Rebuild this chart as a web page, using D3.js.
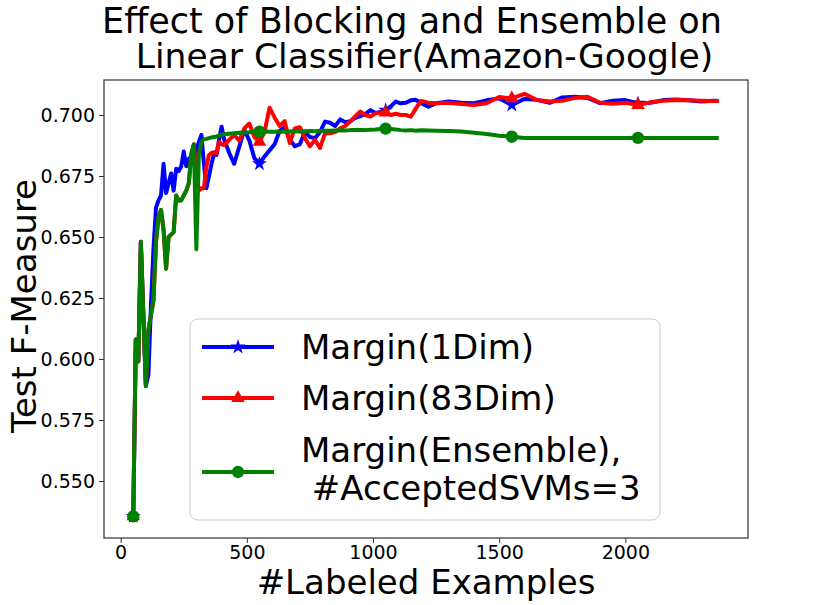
<!DOCTYPE html>
<html>
<head>
<meta charset="utf-8">
<script src="https://cdn.jsdelivr.net/npm/d3@7"></script>
<style>
  body { margin: 0; background: #fff; }
  text { font-family: "DejaVu Sans", sans-serif; }
</style>
</head>
<body>
<div id="chart"></div>
<script>
// number of labeled examples (x)
const labeled = [
  50, 60, 70, 80, 90, 100, 110, 120, 130, 140, 150, 160, 170, 180, 190, 200, 210, 220,
  230, 240, 250, 260, 270, 280, 290, 300, 310, 320, 330, 340, 350, 360, 370, 380, 390, 400,
  410, 430, 450, 470, 490, 510, 530, 550, 570, 590, 610, 630, 650, 670, 690, 710, 730, 750,
  770, 790, 810, 830, 850, 870, 890, 910, 930, 950, 970, 990, 1010, 1030, 1050, 1070, 1090,
  1110, 1130, 1150, 1170, 1190,
  1220, 1250, 1300, 1350, 1400, 1450, 1500, 1550, 1600, 1650, 1700, 1750, 1800, 1850, 1900,
  1950, 2000, 2050, 2100, 2150, 2200, 2250, 2300, 2350, 2370
];

// Margin(1Dim)
const margin1Dim = [
  .5355, .608, .599, .648, .618, .589, .5935, .622, .645, .662, .665, .667, .680, .668, .672, .676, .669, .678,
  .677, .679, .685, .679, .682, .683, .680, .685, .689, .6918, .680, .670, .675, .680, .684, .6836, .690, .6952,
  .6900, .6845, .6800, .6870, .6940, .6895, .6823, .6800, .6830, .6855, .6880, .6935, .6950, .6900, .6872, .6880, .6930, .6910,
  .6905, .6930, .6973, .6968, .6955, .6982, .6970, .6975, .6988, .6995, .7005, .7020, .7008, .7012, .7020, .7035, .7055,
  .7048, .7050, .7060, .7062, .7048,
  .7034, .7048, .7055, .7050, .7048, .7060, .7068, .7041, .7066, .7062, .7050, .7072, .7075, .7070, .7048,
  .7058, .7061, .7048, .7050, .7061, .7064, .7060, .7055, .7058, .7057
];

// Margin(83Dim)
const margin83Dim = [
  .5355, .608, .599, .648, .618, .589, .612, .618, .624, .648, .658, .661, .653, .637, .650, .651, .652, .667,
  .665, .665, .667, .669, .672, .684, .688, .676, .669, .670, .670, .679, .6836, .6844, .6848, .6844, .6890, .6880,
  .6877, .6898, .6918, .6895, .6945, .6965, .6910, .6890, .6930, .7030, .6990, .6955, .6975, .6885, .6945, .6950, .6905, .6872,
  .6898, .6865, .6925, .6925, .6930, .6945, .6955, .6973, .6995, .7014, .7000, .6993, .7007, .7010, .7010, .7000, .7005,
  .7000, .7000, .6993, .7027, .7058,
  .7050, .7048, .7050, .7045, .7041, .7048, .7074, .7068, .7087, .7061, .7055, .7058, .7070, .7075, .7050,
  .7046, .7050, .7041, .7052, .7058, .7061, .7060, .7058, .7057, .7057
];

// Margin(Ensemble), #AcceptedSVMs=3
const marginEnsemble = [
  .5355, .608, .599, .648, .618, .589, .612, .618, .624, .648, .658, .661, .653, .637, .650, .651, .652, .667,
  .665, .665, .667, .669, .672, .684, .688, .645, .684, .689, .690, .6902, .6905, .6908, .6910, .6912, .6915, .6920,
  .6921, .6923, .6925, .6927, .6928, .6929, .6931, .6932, .6932, .6931, .6931, .6932, .6931, .6932, .6933, .6932, .6933, .6934,
  .6933, .6934, .6935, .6935, .6936, .6937, .6936, .6938, .6938, .6939, .6938, .6940, .6941, .6943, .6944, .6943, .6941,
  .6938, .6936, .6938, .6935, .6937,
  .6936, .6935, .6934, .6932, .6927, .6922, .6915, .6911, .6906, .6906, .6906, .6906, .6906, .6906, .6906,
  .6906, .6906, .6906, .6906, .6906, .6906, .6906, .6906, .6906, .6906
];

const markerAt = [50, 550, 1050, 1550, 2050];
const xTicks = [0, 500, 1000, 1500, 2000];
const yTicks = [0.550, 0.575, 0.600, 0.625, 0.650, 0.675, 0.700];

const series = [
  { name: ["Margin(1Dim)"], values: margin1Dim, color: "#0000ff", marker: "star" },
  { name: ["Margin(83Dim)"], values: margin83Dim, color: "#ff0000", marker: "triangle" },
  { name: ["Margin(Ensemble),", " #AcceptedSVMs=3"], values: marginEnsemble, color: "#008000", marker: "circle" }
];

const W = 830, H = 605;
const margin = { top: 80, right: 82, bottom: 67, left: 104 };
const width = W - margin.left - margin.right;
const height = H - margin.top - margin.bottom;

const svg = d3.select("#chart").append("svg")
  .attr("width", W)
  .attr("height", H);

const g = svg.append("g")
  .attr("transform", `translate(${margin.left},${margin.top})`);

const x = d3.scaleLinear().domain([-66, 2486]).range([0, width]);
const y = d3.scaleLinear().domain([0.52664, 0.71434]).range([height, 0]);

// axes
const xAxis = g.append("g")
  .attr("transform", `translate(0,${height})`)
  .call(d3.axisBottom(x).tickValues(xTicks).tickSize(5).tickPadding(3).tickFormat(d3.format("d")));
const yAxis = g.append("g")
  .call(d3.axisLeft(y).tickValues(yTicks).tickSize(5).tickPadding(4).tickFormat(d3.format(".3f")));

[xAxis, yAxis].forEach(a => {
  a.select(".domain").remove();
  a.selectAll(".tick line").attr("stroke", "#333").attr("stroke-width", 1);
  a.selectAll(".tick text").style("font-size", "19px").attr("fill", "#000");
});

function symbolFor(kind, size) {
  if (kind === "star") return d3.symbol().type(d3.symbolStar).size(size || 70)();
  if (kind === "triangle") return d3.symbol().type(d3.symbolTriangle).size(size || 80)();
  return d3.symbol().type(d3.symbolCircle).size(size || 120)();
}

const line = d3.line()
  .x((d, i) => x(labeled[i]))
  .y(d => y(d));

const plot = g.append("g");

series.forEach(s => {
  plot.append("path")
    .datum(s.values)
    .attr("fill", "none")
    .attr("stroke", s.color)
    .attr("stroke-width", 4)
    .attr("stroke-linejoin", "round")
    .attr("d", line);

  const pts = labeled.map((lx, i) => ({ lx, v: s.values[i] }))
    .filter(p => markerAt.includes(p.lx));

  plot.selectAll(null)
    .data(pts)
    .enter().append("path")
    .attr("transform", p => `translate(${x(p.lx)},${y(p.v)})`)
    .attr("d", symbolFor(s.marker))
    .attr("fill", s.color);
});

// frame
g.append("rect")
  .attr("width", width)
  .attr("height", height)
  .attr("fill", "none")
  .attr("stroke", "#333")
  .attr("stroke-width", 1.2);

// legend
const legend = svg.append("g");
legend.append("rect")
  .attr("x", 190).attr("y", 319)
  .attr("width", 470).attr("height", 201)
  .attr("rx", 8)
  .attr("fill", "#fff").attr("fill-opacity", 0.8)
  .attr("stroke", "#ccc").attr("stroke-width", 1);

const rowY = [347, 398, 472];
series.forEach((s, i) => {
  const ry = rowY[i];
  legend.append("line")
    .attr("x1", 202).attr("x2", 274)
    .attr("y1", ry).attr("y2", ry)
    .attr("stroke", s.color).attr("stroke-width", 4);
  legend.append("path")
    .attr("transform", `translate(238,${ry})`)
    .attr("d", symbolFor(s.marker))
    .attr("fill", s.color);
  const t = legend.append("text")
    .attr("x", 301)
    .style("font-size", "34px")
    .style("white-space", "pre")
    .attr("fill", "#000");
  if (s.name.length === 1) {
    t.attr("y", ry + 12).text(s.name[0]);
  } else {
    t.append("tspan").attr("x", 301).attr("y", ry - 10).text(s.name[0]);
    t.append("tspan").attr("x", 301).attr("y", ry + 28).text(s.name[1]);
  }
});

// title and labels
svg.append("text")
  .attr("x", 412).attr("y", 33)
  .attr("text-anchor", "middle")
  .style("font-size", "35px")
  .text("Effect of Blocking and Ensemble on");
svg.append("text")
  .attr("x", 424.5).attr("y", 68)
  .attr("text-anchor", "middle")
  .style("font-size", "34.5px")
  .text("Linear Classifier(Amazon-Google)");

svg.append("text")
  .attr("x", margin.left + width / 2)
  .attr("y", 594)
  .attr("text-anchor", "middle")
  .style("font-size", "34px")
  .text("#Labeled Examples");

svg.append("text")
  .attr("transform", `translate(36,${margin.top + height / 2 - 3}) rotate(-90)`)
  .attr("text-anchor", "middle")
  .style("font-size", "34px")
  .text("Test F-Measure");
</script>
</body>
</html>
